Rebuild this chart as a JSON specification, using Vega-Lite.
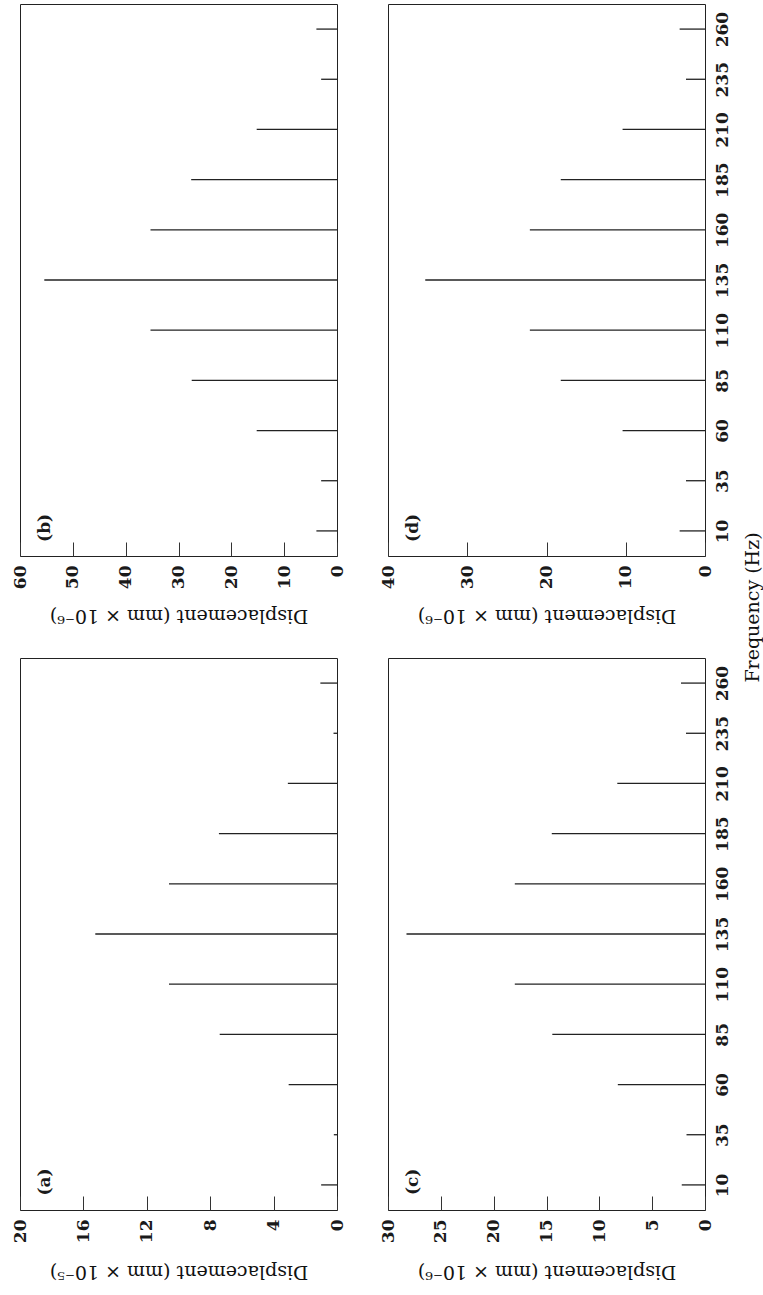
{
  "$schema": "https://vega.github.io/schema/vega-lite/v6.json",
  "autosize": {"type": "pad"},
  "padding": {"left": 10, "top": 3, "right": 20, "bottom": 30},
  "background": "white",
  "config": {
    "view": {"stroke": "#222", "strokeWidth": 1},
    "font": "DejaVu Serif",
    "axis": {
      "grid": false,
      "domain": false,
      "labelFont": "DejaVu Serif",
      "labelFontSize": 17,
      "labelFontWeight": "bold",
      "labelColor": "#1a1a1a",
      "labelFlush": false,
      "labelOverlap": false,
      "labelBound": false,
      "titleFont": "DejaVu Serif",
      "titleFontSize": 19,
      "titleFontWeight": "normal",
      "titleColor": "#111",
      "tickColor": "#333",
      "tickWidth": 1
    }
  },
  "datasets": {
    "spectra": [
      {"panel": "a", "freq": 10, "disp": 1.0},
      {"panel": "a", "freq": 35, "disp": 0.2},
      {"panel": "a", "freq": 60, "disp": 3.05},
      {"panel": "a", "freq": 85, "disp": 7.4},
      {"panel": "a", "freq": 110, "disp": 10.6},
      {"panel": "a", "freq": 135, "disp": 15.25},
      {"panel": "a", "freq": 160, "disp": 10.6},
      {"panel": "a", "freq": 185, "disp": 7.45},
      {"panel": "a", "freq": 210, "disp": 3.1},
      {"panel": "a", "freq": 235, "disp": 0.22},
      {"panel": "a", "freq": 260, "disp": 1.05},
      {"panel": "b", "freq": 10, "disp": 3.9},
      {"panel": "b", "freq": 35, "disp": 3.0},
      {"panel": "b", "freq": 60, "disp": 15.2},
      {"panel": "b", "freq": 85, "disp": 27.5},
      {"panel": "b", "freq": 110, "disp": 35.3},
      {"panel": "b", "freq": 135, "disp": 55.4},
      {"panel": "b", "freq": 160, "disp": 35.3},
      {"panel": "b", "freq": 185, "disp": 27.6},
      {"panel": "b", "freq": 210, "disp": 15.2},
      {"panel": "b", "freq": 235, "disp": 3.0},
      {"panel": "b", "freq": 260, "disp": 3.9},
      {"panel": "c", "freq": 10, "disp": 2.2},
      {"panel": "c", "freq": 35, "disp": 1.75},
      {"panel": "c", "freq": 60, "disp": 8.25},
      {"panel": "c", "freq": 85, "disp": 14.45},
      {"panel": "c", "freq": 110, "disp": 18.0},
      {"panel": "c", "freq": 135, "disp": 28.25},
      {"panel": "c", "freq": 160, "disp": 18.0},
      {"panel": "c", "freq": 185, "disp": 14.5},
      {"panel": "c", "freq": 210, "disp": 8.3},
      {"panel": "c", "freq": 235, "disp": 1.8},
      {"panel": "c", "freq": 260, "disp": 2.27},
      {"panel": "d", "freq": 10, "disp": 3.2},
      {"panel": "d", "freq": 35, "disp": 2.4},
      {"panel": "d", "freq": 60, "disp": 10.4},
      {"panel": "d", "freq": 85, "disp": 18.2},
      {"panel": "d", "freq": 110, "disp": 22.1},
      {"panel": "d", "freq": 135, "disp": 35.3},
      {"panel": "d", "freq": 160, "disp": 22.1},
      {"panel": "d", "freq": 185, "disp": 18.2},
      {"panel": "d", "freq": 210, "disp": 10.4},
      {"panel": "d", "freq": 235, "disp": 2.4},
      {"panel": "d", "freq": 260, "disp": 3.2}
    ]
  },
  "columns": 2,
  "spacing": {"row": 102, "column": 51},
  "bounds": "flush",
  "concat": [
    {
      "width": 317, "height": 552,
      "layer": [
        {
          "data": {"name": "spectra"},
          "transform": [{"filter": "datum.panel === 'b'"}],
          "mark": {"type": "rule", "color": "#222", "strokeWidth": 1.3},
          "encoding": {
            "x": {"field": "disp", "type": "quantitative",
              "scale": {"domain": [0, 60], "reverse": true, "nice": false},
              "axis": {"values": [0, 10, 20, 30, 40, 50, 60], "tickSize": -14, "labelAngle": 270, "labelPadding": 23,
                "title": "Displacement (mm × 10⁻⁶)", "titleAngle": 180, "titleY": 59, "titleBaseline": "middle"}},
            "x2": {"datum": 0},
            "y": {"field": "freq", "type": "quantitative",
              "scale": {"domain": [-2.5, 272.5], "nice": false, "zero": false}, "axis": null}
          }
        },
        {
          "data": {"values": [{"label": "(b)"}]},
          "mark": {"type": "text", "angle": 270, "fontSize": 17, "fontWeight": "bold", "align": "center", "baseline": "middle", "color": "#1a1a1a"},
          "encoding": {
            "x": {"datum": 55.2, "type": "quantitative"},
            "y": {"datum": 11.5, "type": "quantitative"},
            "text": {"field": "label"}
          }
        }
      ]
    },
    {
      "width": 317, "height": 552,
      "layer": [
        {
          "data": {"name": "spectra"},
          "transform": [{"filter": "datum.panel === 'd'"}],
          "mark": {"type": "rule", "color": "#222", "strokeWidth": 1.3},
          "encoding": {
            "x": {"field": "disp", "type": "quantitative",
              "scale": {"domain": [0, 40], "reverse": true, "nice": false},
              "axis": {"values": [0, 10, 20, 30, 40], "tickSize": -14, "labelAngle": 270, "labelPadding": 23,
                "title": "Displacement (mm × 10⁻⁶)", "titleAngle": 180, "titleY": 59, "titleBaseline": "middle"}},
            "x2": {"datum": 0},
            "y": {"field": "freq", "type": "quantitative",
              "scale": {"domain": [-2.5, 272.5], "nice": false, "zero": false},
              "axis": {"orient": "right", "values": [10, 35, 60, 85, 110, 135, 160, 185, 210, 235, 260], "ticks": false,
                "labelAngle": 270, "labelPadding": 9,
                "title": "Frequency (Hz)", "titleAngle": 270, "titleX": 47, "titleY": 603, "titleBaseline": "middle", "titleAlign": "center"}}
          }
        },
        {
          "data": {"values": [{"label": "(d)"}]},
          "mark": {"type": "text", "angle": 270, "fontSize": 17, "fontWeight": "bold", "align": "center", "baseline": "middle", "color": "#1a1a1a"},
          "encoding": {
            "x": {"datum": 36.8, "type": "quantitative"},
            "y": {"datum": 11.5, "type": "quantitative"},
            "text": {"field": "label"}
          }
        }
      ]
    },
    {
      "width": 317, "height": 552,
      "layer": [
        {
          "data": {"name": "spectra"},
          "transform": [{"filter": "datum.panel === 'a'"}],
          "mark": {"type": "rule", "color": "#222", "strokeWidth": 1.3},
          "encoding": {
            "x": {"field": "disp", "type": "quantitative",
              "scale": {"domain": [0, 20], "reverse": true, "nice": false},
              "axis": {"values": [0, 4, 8, 12, 16, 20], "tickSize": -14, "labelAngle": 270, "labelPadding": 23,
                "title": "Displacement (mm × 10⁻⁵)", "titleAngle": 180, "titleY": 61, "titleBaseline": "middle"}},
            "x2": {"datum": 0},
            "y": {"field": "freq", "type": "quantitative",
              "scale": {"domain": [-2.5, 272.5], "nice": false, "zero": false}, "axis": null}
          }
        },
        {
          "data": {"values": [{"label": "(a)"}]},
          "mark": {"type": "text", "angle": 270, "fontSize": 17, "fontWeight": "bold", "align": "center", "baseline": "middle", "color": "#1a1a1a"},
          "encoding": {
            "x": {"datum": 18.4, "type": "quantitative"},
            "y": {"datum": 11.5, "type": "quantitative"},
            "text": {"field": "label"}
          }
        }
      ]
    },
    {
      "width": 317, "height": 552,
      "layer": [
        {
          "data": {"name": "spectra"},
          "transform": [{"filter": "datum.panel === 'c'"}],
          "mark": {"type": "rule", "color": "#222", "strokeWidth": 1.3},
          "encoding": {
            "x": {"field": "disp", "type": "quantitative",
              "scale": {"domain": [0, 30], "reverse": true, "nice": false},
              "axis": {"values": [0, 5, 10, 15, 20, 25, 30], "tickSize": -14, "labelAngle": 270, "labelPadding": 23,
                "title": "Displacement (mm × 10⁻⁶)", "titleAngle": 180, "titleY": 61, "titleBaseline": "middle"}},
            "x2": {"datum": 0},
            "y": {"field": "freq", "type": "quantitative",
              "scale": {"domain": [-2.5, 272.5], "nice": false, "zero": false},
              "axis": {"orient": "right", "values": [10, 35, 60, 85, 110, 135, 160, 185, 210, 235, 260], "ticks": false,
                "labelAngle": 270, "labelPadding": 9, "title": null}}
          }
        },
        {
          "data": {"values": [{"label": "(c)"}]},
          "mark": {"type": "text", "angle": 270, "fontSize": 17, "fontWeight": "bold", "align": "center", "baseline": "middle", "color": "#1a1a1a"},
          "encoding": {
            "x": {"datum": 27.6, "type": "quantitative"},
            "y": {"datum": 11.5, "type": "quantitative"},
            "text": {"field": "label"}
          }
        }
      ]
    }
  ]
}
